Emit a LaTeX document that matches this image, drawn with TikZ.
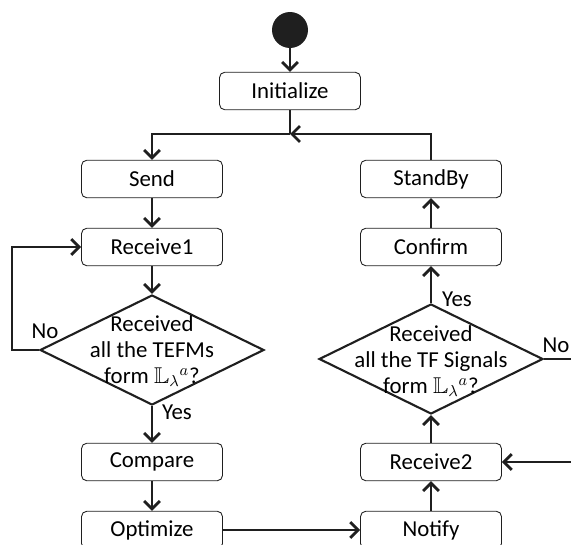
\documentclass[tikz,border=0pt]{standalone}
\usepackage{fontspec}
\setmainfont{Carlito}
\usepackage{amssymb}
\usetikzlibrary{shapes.geometric,arrows.meta}

\tikzset{
  box/.style={draw=black!88, rounded corners=3pt, line width=0.5pt, minimum width=2.82cm, minimum height=0.75cm, inner sep=0pt},
  decision/.style={draw=black!88, diamond, line width=1.2pt, minimum width=4.48cm, minimum height=2.2cm, inner sep=0pt},
  flow/.style={draw=black!88, line width=1.6pt, -{Straight Barb[length=4.5pt,width=9pt]}},
  line/.style={draw=black!88, line width=1.6pt},
}

\begin{document}
\begin{tikzpicture}[x=0.02cm, y=-0.02cm, font=\fontsize{13}{14.8}\selectfont]
    \useasboundingbox (0,0) rectangle (571,544);

    % Nodes
    \node[circle, fill=black!88, minimum size=0.72cm, inner sep=0pt] (start) at (290,30) {};
    \node[box] (init) at (290,91) {Initialize};
    \node[box] (send) at (152,179) {Send};
    \node[box] (rec1) at (152,247) {Receive1};
    \node[decision] (dec1) at (152,350) {};
    \node[align=center] (dec1txt) at (152,351) {Received\\all the TEFMs\\form $\mathbb{L}_{\lambda}{}^{a}$?};
    \node[box] (compare) at (152,462) {Compare};
    \node[box] (optimize) at (152,530) {Optimize};
    \node[box] (standby) at (431,179) {StandBy};
    \node[box] (confirm) at (431,247) {Confirm};
    \node[decision] (dec2) at (431,359) {};
    \node[align=center] (dec2txt) at (431,361) {Received\\all the TF Signals\\form $\mathbb{L}_{\lambda}{}^{a}$?};
    \node[box] (rec2) at (431,462) {Receive2};
    \node[box] (notify) at (431,530) {Notify};

    % Helper coordinates
    \coordinate (join) at (290,134);
    \coordinate (loopL) at (12,350);
    \coordinate (loopR) at (600,359);

    % Edges
    \draw[flow] (start) -- (init);
    \draw[line] (init) -- (join);
    \draw[flow] (join) -| (send);
    \draw[flow] (standby) |- (join);
    \draw[flow] (send) -- (rec1);
    \draw[flow] (rec1) -- (dec1);
    \draw[flow] (dec1.west) -- (loopL) |- (rec1);
    \draw[flow] (dec1) -- (compare);
    \draw[flow] (compare) -- (optimize);
    \draw[flow] (optimize) -- (notify);
    \draw[flow] (notify) -- (rec2);
    \draw[flow] (rec2) -- (dec2);
    \draw[flow] (dec2.east) -- (loopR) |- (rec2);
    \draw[flow] (dec2) -- (confirm);
    \draw[flow] (confirm) -- (standby);

    % Text
    \node (no1) at (45,331) {No};
    \node (yes1) at (177,412) {Yes};
    \node (yes2) at (457,299) {Yes};
    \node (no2) at (556,345) {No};
\end{tikzpicture}
\end{document}
